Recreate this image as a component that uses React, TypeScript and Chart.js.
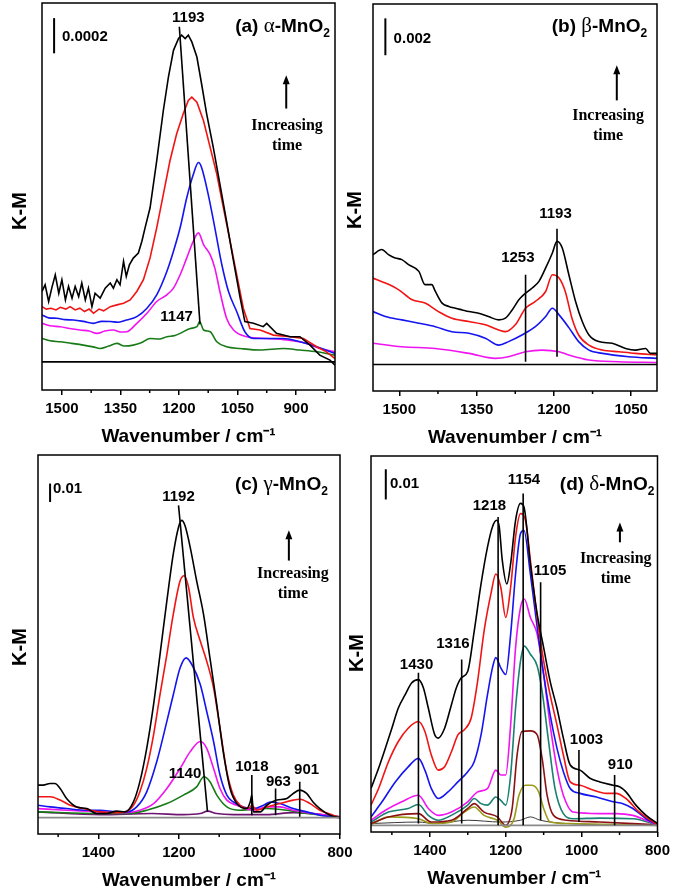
import React, { useEffect, useRef } from 'react';
import { Chart, registerables } from 'chart.js';
Chart.register(...registerables);

type Pt = [number, number];
const SANS = '"Liberation Sans", Arial, Helvetica, sans-serif';
const SERIF = '"Liberation Serif", "Times New Roman", serif';

// ---------- Panel (a) alpha-MnO2 (K-M, units of 1e-4) ----------
const aBlack: Pt[] = [[1551,4.0],[1543,4.38],[1534,3.43],[1526,4.19],[1517,4.95],[1508,3.9],[1500,4.67],[1491,3.52],[1483,4.29],[1474,3.62],[1466,4.29],[1457,3.71],[1449,4.48],[1440,3.52],[1432,4.19],[1423,3.14],[1415,3.9],[1402,3.62],[1389,4.19],[1376,4.48],[1368,4.19],[1359,4.67],[1351,4.38],[1342,5.71],[1335,4.86],[1327,5.52],[1317,5.9],[1304,6.19],[1295,6.86],[1287,7.6],[1274,8.76],[1257,11.43],[1240,14.29],[1227,16.19],[1214,17.71],[1201,18.38],[1193,18.57],[1184,18.38],[1176,18.57],[1167,18.19],[1154,17.33],[1142,15.81],[1129,14.1],[1112,12.19],[1095,10.1],[1078,8.0],[1060,5.71],[1043,3.62],[1031,2.29],[1009,2.19],[984,2.0],[975,2.19],[950,1.62],[915,1.43],[890,1.43],[864,0.95],[839,0.38],[813,0.1],[800,-0.19]];
const aRed: Pt[] = [[1551,3.14],[1540,3.0],[1528,3.05],[1515,2.95],[1504,3.1],[1490,3.0],[1479,3.14],[1466,2.95],[1454,3.05],[1442,2.86],[1430,3.0],[1419,2.76],[1405,3.0],[1393,2.9],[1376,3.14],[1359,3.24],[1342,3.33],[1325,3.52],[1308,4.0],[1291,4.67],[1274,5.91],[1257,7.62],[1240,9.52],[1223,11.43],[1206,12.95],[1189,14.1],[1176,14.86],[1167,15.05],[1154,14.76],[1137,13.71],[1120,12.19],[1103,10.67],[1086,8.76],[1069,6.86],[1052,4.95],[1035,3.05],[1018,1.9],[992,1.81],[958,1.52],[915,1.43],[881,1.33],[847,0.86],[822,0.57],[800,0.19]];
const aBlue: Pt[] = [[1551,2.67],[1534,2.5],[1513,2.48],[1492,2.4],[1470,2.38],[1445,2.3],[1419,2.19],[1398,2.3],[1376,2.29],[1355,2.25],[1334,2.38],[1308,2.57],[1282,3.05],[1257,3.81],[1231,5.14],[1214,6.29],[1197,7.62],[1180,9.33],[1163,10.67],[1150,11.33],[1142,11.05],[1125,9.52],[1108,7.62],[1090,5.52],[1073,4.0],[1052,2.86],[1031,1.71],[1009,1.33],[975,1.33],[932,1.33],[890,1.14],[847,0.86],[800,0.48]];
const aMagenta: Pt[] = [[1551,2.19],[1530,2.05],[1504,2.0],[1480,1.9],[1453,1.81],[1430,1.75],[1410,1.62],[1390,1.75],[1368,1.81],[1350,1.7],[1334,1.71],[1308,2.19],[1282,2.76],[1257,3.43],[1231,3.81],[1214,4.19],[1197,4.95],[1180,5.91],[1163,6.86],[1150,7.33],[1137,6.67],[1120,6.1],[1108,5.33],[1095,4.0],[1078,2.48],[1060,1.81],[1026,1.43],[975,1.33],[924,1.24],[873,1.05],[839,0.76],[800,0.57]];
const aGreen: Pt[] = [[1551,1.33],[1530,1.2],[1504,1.14],[1475,1.05],[1445,0.95],[1420,0.85],[1402,0.76],[1380,0.9],[1359,1.05],[1340,0.9],[1317,0.95],[1295,1.1],[1274,1.33],[1250,1.3],[1231,1.43],[1210,1.5],[1197,1.62],[1171,1.9],[1154,2.0],[1147,2.29],[1137,1.81],[1120,1.71],[1103,1.14],[1078,0.86],[1043,0.76],[992,0.67],[932,0.76],[890,0.67],[847,0.57],[800,0.38]];
const aBase: Pt[] = [[1551,0],[800,0]];
const aGuide1193: Pt[] = [[1199,19.05],[1146,2.13]];

// ---------- Panel (b) beta-MnO2 (K-M, units of 1e-3) ----------
const bBlack: Pt[] = [[1551,5.96],[1534,6.24],[1521,5.96],[1508,5.78],[1495,5.69],[1482,5.42],[1462,5.05],[1450,4.33],[1437,4.33],[1430,3.96],[1417,3.33],[1404,3.15],[1391,3.05],[1378,2.96],[1365,2.87],[1346,2.78],[1327,2.6],[1307,2.42],[1294,2.51],[1281,2.96],[1268,3.51],[1255,3.87],[1242,4.15],[1229,4.51],[1216,5.24],[1203,6.05],[1194,6.69],[1184,6.33],[1171,4.87],[1158,3.42],[1145,2.33],[1132,1.6],[1113,1.24],[1087,1.15],[1061,0.87],[1042,0.78],[1022,0.87],[1013,0.6],[1000,0.6]];
const bRed: Pt[] = [[1551,4.69],[1527,4.42],[1501,4.05],[1475,3.51],[1450,3.33],[1424,2.87],[1398,2.51],[1365,2.33],[1333,2.15],[1307,1.87],[1294,1.78],[1275,2.15],[1255,3.05],[1236,3.42],[1216,3.96],[1203,4.87],[1190,4.69],[1178,3.96],[1165,2.51],[1152,1.6],[1132,1.05],[1106,0.78],[1074,0.69],[1042,0.6],[1000,0.51]];
const bBlue: Pt[] = [[1551,2.87],[1527,2.6],[1495,2.42],[1462,2.24],[1430,2.05],[1398,1.78],[1365,1.69],[1333,1.42],[1307,1.05],[1288,1.24],[1262,1.6],[1236,2.05],[1216,2.6],[1203,3.05],[1190,2.69],[1171,2.0],[1152,1.24],[1132,0.78],[1106,0.6],[1055,0.42],[1000,0.33]];
const bMagenta: Pt[] = [[1551,1.15],[1495,0.96],[1430,0.87],[1365,0.6],[1314,0.33],[1288,0.42],[1255,0.69],[1223,0.78],[1190,0.69],[1171,0.51],[1132,0.24],[1074,0.15],[1000,0.11]];
const bBase: Pt[] = [[1551,0],[1000,0]];
const bGuide1253: Pt[] = [[1255,4.87],[1255,0.15]];
const bGuide1193: Pt[] = [[1194,7.36],[1194,0.42]];

// ---------- Panel (c) gamma-MnO2 (K-M, units of 1e-2) ----------
const cBlack: Pt[] = [[1551,1.76],[1537,1.76],[1520,1.85],[1508,1.85],[1495,1.58],[1479,1.04],[1454,0.58],[1429,0.49],[1404,0.22],[1379,0.22],[1354,0.35],[1334,0.31],[1313,0.85],[1297,1.95],[1280,3.76],[1263,6.13],[1247,8.85],[1230,11.76],[1214,14.31],[1201,15.76],[1193,16.13],[1185,15.85],[1172,14.67],[1156,12.85],[1139,11.04],[1123,8.67],[1106,6.13],[1090,3.58],[1073,1.58],[1056,0.76],[1032,0.49],[1023,0.85],[1019,1.22],[1015,0.31],[998,0.31],[982,0.67],[957,0.95],[932,1.04],[916,1.31],[900,1.49],[883,1.31],[867,0.85],[850,0.49],[825,0.13],[800,0]];
const cRed: Pt[] = [[1551,1.13],[1520,1.13],[1495,0.95],[1470,0.67],[1437,0.49],[1396,0.31],[1363,0.27],[1334,0.31],[1313,0.67],[1297,1.4],[1280,2.67],[1263,4.49],[1247,6.67],[1230,8.85],[1214,11.04],[1197,12.85],[1187,13.13],[1176,12.49],[1164,10.85],[1147,9.58],[1131,8.49],[1114,7.04],[1098,4.85],[1081,2.49],[1065,1.22],[1048,0.67],[1027,0.49],[1019,0.67],[1007,0.4],[982,0.58],[949,0.76],[916,0.95],[900,1.0],[874,0.76],[850,0.4],[817,0.13],[800,0]];
const cBlue: Pt[] = [[1551,0.67],[1520,0.58],[1479,0.49],[1429,0.4],[1396,0.4],[1354,0.31],[1329,0.31],[1305,0.58],[1280,1.4],[1255,3.04],[1230,5.22],[1214,6.67],[1197,8.13],[1182,8.67],[1168,8.31],[1147,7.22],[1131,5.76],[1114,4.13],[1098,2.31],[1081,1.22],[1065,0.85],[1040,0.58],[1015,0.49],[990,0.67],[973,0.85],[949,0.76],[916,0.49],[883,0.31],[850,0.13],[800,0]];
const cMagenta: Pt[] = [[1551,0.49],[1479,0.4],[1396,0.31],[1329,0.27],[1297,0.4],[1263,0.76],[1230,1.58],[1197,2.67],[1172,3.58],[1147,4.13],[1131,3.76],[1114,2.67],[1098,1.58],[1081,0.95],[1056,0.67],[1015,0.4],[982,0.58],[949,0.58],[916,0.4],[867,0.22],[800,0.04]];
const cGreen: Pt[] = [[1551,0.31],[1396,0.22],[1329,0.22],[1280,0.4],[1230,0.76],[1189,1.22],[1156,1.67],[1138,2.22],[1123,1.95],[1106,1.22],[1081,0.58],[1048,0.4],[982,0.49],[932,0.4],[883,0.22],[800,0.04]];
const cPurple: Pt[] = [[1551,0.31],[1396,0.16],[1267,0.22],[1189,0.16],[1147,0.22],[1129,0.35],[1106,0.22],[1065,0.16],[982,0.16],[916,0.27],[867,0.22],[800,0.04]];
const cBase: Pt[] = [[1550,0],[800,0]];
const cGuide1192: Pt[] = [[1201,16.95],[1129,0.31]];
const cGuide1018: Pt[] = [[1019,2.31],[1019,0.13]];
const cGuide963: Pt[] = [[960,1.58],[960,0.13]];
const cGuide901: Pt[] = [[900,1.95],[900,0.05]];

// ---------- Panel (d) delta-MnO2 (K-M, units of 1e-2) ----------
const dBlack: Pt[] = [[1555,1.22],[1535,1.89],[1517,2.56],[1500,3.22],[1483,3.89],[1465,4.33],[1448,4.72],[1430,4.83],[1417,4.56],[1404,3.89],[1387,3.0],[1378,2.89],[1361,3.22],[1343,4.0],[1330,4.56],[1317,4.89],[1300,5.11],[1283,6.44],[1265,8.0],[1248,9.22],[1235,9.89],[1224,10.11],[1217,9.89],[1209,8.78],[1197,8.0],[1187,8.67],[1174,10.11],[1161,10.67],[1152,10.56],[1135,8.67],[1117,7.0],[1100,5.89],[1083,4.78],[1065,3.89],[1048,2.89],[1030,2.0],[1004,1.83],[978,1.56],[952,1.44],[917,1.33],[900,1.28],[883,1.11],[857,0.67],[830,0.33],[800,0.06]];
const dRed: Pt[] = [[1555,0.67],[1535,1.22],[1509,2.11],[1483,2.78],[1457,3.22],[1430,3.44],[1413,3.11],[1396,2.33],[1378,1.83],[1361,1.94],[1343,2.44],[1326,3.0],[1309,3.17],[1291,3.56],[1274,4.78],[1257,6.44],[1239,7.67],[1226,8.33],[1213,7.89],[1200,6.89],[1187,7.89],[1174,9.56],[1161,10.33],[1148,10.11],[1135,8.78],[1117,6.89],[1100,5.44],[1083,4.33],[1065,3.33],[1048,2.33],[1030,1.44],[1004,1.33],[970,1.17],[935,1.06],[909,1.06],[883,0.89],[848,0.44],[800,0.02]];
const dBlue: Pt[] = [[1555,0.28],[1526,0.78],[1491,1.44],[1457,1.94],[1430,2.22],[1413,1.83],[1396,1.22],[1378,0.89],[1352,1.11],[1326,1.44],[1300,1.78],[1283,2.11],[1265,3.0],[1248,4.33],[1235,5.22],[1226,5.56],[1213,5.22],[1200,5.0],[1187,6.33],[1174,8.33],[1161,9.67],[1152,9.78],[1135,8.33],[1117,6.56],[1100,5.0],[1083,3.67],[1065,2.56],[1048,1.78],[1030,1.22],[1004,1.06],[961,0.94],[917,0.78],[891,0.72],[865,0.56],[830,0.22],[800,0.02]];
const dMagenta: Pt[] = [[1555,0.17],[1517,0.5],[1474,0.78],[1430,1.0],[1404,0.56],[1378,0.33],[1343,0.44],[1300,0.78],[1274,1.11],[1248,1.22],[1226,1.83],[1213,1.67],[1200,1.67],[1187,3.33],[1174,5.89],[1161,7.22],[1151,7.5],[1135,6.89],[1117,6.33],[1100,5.0],[1083,3.33],[1065,1.89],[1048,1.0],[1022,0.44],[952,0.39],[909,0.39],[865,0.33],[830,0.17],[800,0.02]];
const dTeal: Pt[] = [[1555,0.11],[1509,0.44],[1457,0.56],[1430,0.69],[1404,0.33],[1378,0.17],[1335,0.39],[1300,0.67],[1283,0.89],[1265,0.72],[1248,0.67],[1226,0.94],[1213,0.83],[1200,0.67],[1187,1.67],[1174,3.89],[1161,5.44],[1151,5.94],[1135,5.67],[1117,5.28],[1104,4.44],[1087,2.78],[1070,1.22],[1048,0.39],[1022,0.22],[952,0.24],[865,0.22],[800,0.02]];
const dMaroon: Pt[] = [[1555,0.06],[1509,0.28],[1430,0.39],[1396,0.11],[1343,0.17],[1300,0.56],[1283,0.72],[1257,0.44],[1222,0.28],[1200,0.0],[1183,0.56],[1170,2.33],[1157,3.11],[1135,3.13],[1117,3.0],[1104,2.22],[1091,1.0],[1074,0.33],[1039,0.17],[952,0.11],[800,0.02]];
const dOlive: Pt[] = [[1555,0.02],[1509,0.28],[1430,0.22],[1396,0.06],[1343,0.11],[1309,0.44],[1283,0.61],[1257,0.33],[1222,0.17],[1200,-0.06],[1178,0.22],[1165,1.0],[1148,1.33],[1131,1.33],[1113,1.11],[1100,0.56],[1083,0.11],[1039,0.06],[800,0]];
const dGray: Pt[] = [[1555,0.06],[1430,0.11],[1387,0.06],[1300,0.17],[1213,0.11],[1161,0.17],[1135,0.28],[1109,0.17],[1039,0.06],[800,0]];
const dBase: Pt[] = [[1555,0],[800,0]];
const dGuide1430: Pt[] = [[1430,5.06],[1430,0.06]];
const dGuide1316: Pt[] = [[1316,5.5],[1316,0.06]];
const dGuide1218: Pt[] = [[1220,10.22],[1220,0]];
const dGuide1154: Pt[] = [[1154,11.0],[1154,0]];
const dGuide1105: Pt[] = [[1108,8.06],[1108,0.17]];
const dGuide1003: Pt[] = [[1007,2.5],[1007,0.11]];
const dGuide910: Pt[] = [[913,1.67],[913,0]];

// tick values
const ticksAB = [1500, 1350, 1200, 1050, 900];
const minorAB = [1425, 1275, 1125, 975, 825];
const ticksCD = [1400, 1200, 1000, 800];
const minorCD = [1500, 1300, 1100, 900];

const BLACK = '#000000', RED = '#f01414', BLUE = '#1414f0', MAGENTA = '#f014f0', GREEN = '#177a17';
const PURPLE = '#6e1470', TEAL = '#1a8070', MAROON = '#8a1212', OLIVE = '#9a9a1c', DGRAY = '#3a3a3a';

interface SeriesDef { pts: Pt[]; color: string; width?: number; jagged?: boolean }
interface TextDef { text: string; x: number; y: number }
interface PanelDef {
  canvas: { left: number; top: number; width: number; height: number };
  plot: { left: number; top: number; right: number; bottom: number };
  xMin: number; xMax: number; yMin: number; yMax: number;
  major: number[]; minor: number[];
  series: SeriesDef[];
  guides: Pt[][];
  peakLabels: TextDef[];
  bar: { x: number; y0: number; y1: number; label: string; lx: number; ly: number };
  title: { letter: string; greek: string; x: number; y: number };
  arrow: { x: number; y0: number; y1: number; tx: number; ty1: number; ty2: number };
  km: { x: number; y: number };
}

const panels: PanelDef[] = [
  {
    canvas: { left: 0, top: 0, width: 340, height: 452 },
    plot: { left: 42, top: 3, right: 335, bottom: 388 },
    xMin: 800, xMax: 1551, yMin: -1.6, yMax: 20.4,
    major: ticksAB, minor: minorAB,
    series: [
      { pts: aBase, color: BLACK },
      { pts: aBlack, color: BLACK, jagged: true },
      { pts: aRed, color: RED, jagged: true },
      { pts: aBlue, color: BLUE },
      { pts: aMagenta, color: MAGENTA },
      { pts: aGreen, color: GREEN },
    ],
    guides: [aGuide1193],
    peakLabels: [{ text: '1193', x: 1176, y: 19.53 }, { text: '1147', x: 1206, y: 2.57 }],
    bar: { x: 1520, y0: 17.54, y1: 19.54, label: '0.0002', lx: 1500, ly: 18.47 },
    title: { letter: 'a', greek: 'α', x: 813, y: 19.14 },
    arrow: { x: 925, y0: 14.4, y1: 16.29, tx: 923, ty1: 13.43, ty2: 12.29 },
    km: { x: 20, y: 211 },
  },
  {
    canvas: { left: 340, top: 0, width: 335, height: 452 },
    plot: { left: 33, top: 4, right: 317, bottom: 389 },
    xMin: 1000, xMax: 1551, yMin: -1.44, yMax: 19.56,
    major: [1500, 1350, 1200, 1050], minor: [1425, 1275, 1125],
    series: [
      { pts: bBase, color: BLACK },
      { pts: bBlack, color: BLACK },
      { pts: bRed, color: RED },
      { pts: bBlue, color: BLUE },
      { pts: bMagenta, color: MAGENTA },
    ],
    guides: [bGuide1253, bGuide1193],
    peakLabels: [{ text: '1253', x: 1270, y: 5.78 }, { text: '1193', x: 1197, y: 8.18 }],
    bar: { x: 1527, y0: 16.78, y1: 18.78, label: '0.002', lx: 1511, ly: 17.69 },
    title: { letter: 'b', greek: 'β', x: 1019, y: 18.42 },
    arrow: { x: 1078, y0: 14.33, y1: 16.24, tx: 1095, ty1: 13.51, ty2: 12.42 },
    km: { x: 15, y: 210 },
  },
  {
    canvas: { left: 0, top: 452, width: 360, height: 439 },
    plot: { left: 38, top: 3, right: 340, bottom: 380 },
    xMin: 800, xMax: 1550, yMin: -0.89, yMax: 19.68,
    major: ticksCD, minor: minorCD,
    series: [
      { pts: cBase, color: '#8a8a8a' },
      { pts: cBlack, color: BLACK },
      { pts: cRed, color: RED },
      { pts: cBlue, color: BLUE },
      { pts: cMagenta, color: MAGENTA },
      { pts: cGreen, color: GREEN },
      { pts: cPurple, color: PURPLE },
    ],
    guides: [cGuide1192, cGuide1018, cGuide963, cGuide901],
    peakLabels: [
      { text: '1192', x: 1201, y: 17.4 }, { text: '1140', x: 1185, y: 2.4 },
      { text: '1018', x: 1019, y: 2.76 }, { text: '963', x: 953, y: 1.95 }, { text: '901', x: 883, y: 2.58 },
    ],
    bar: { x: 1520, y0: 17.13, y1: 18.13, label: '0.01', lx: 1513, ly: 17.85 },
    title: { letter: 'c', greek: 'γ', x: 830, y: 18.15 },
    arrow: { x: 927, y0: 13.95, y1: 15.59, tx: 917, ty1: 13.24, ty2: 12.15 },
    km: { x: 20, y: 195 },
  },
  {
    canvas: { left: 340, top: 452, width: 335, height: 439 },
    plot: { left: 31, top: 4, right: 320, bottom: 378 },
    xMin: 800, xMax: 1555, yMin: -0.22, yMax: 12.24,
    major: ticksCD, minor: minorCD,
    series: [
      { pts: dBase, color: '#8a8a8a' },
      { pts: dBlack, color: BLACK },
      { pts: dRed, color: RED },
      { pts: dBlue, color: BLUE },
      { pts: dMagenta, color: MAGENTA },
      { pts: dTeal, color: TEAL },
      { pts: dMaroon, color: MAROON },
      { pts: dOlive, color: OLIVE },
      { pts: dGray, color: DGRAY, width: 1 },
    ],
    guides: [dGuide1430, dGuide1316, dGuide1218, dGuide1154, dGuide1105, dGuide1003, dGuide910],
    peakLabels: [
      { text: '1430', x: 1435, y: 5.33 }, { text: '1316', x: 1339, y: 6.02 },
      { text: '1218', x: 1243, y: 10.6 }, { text: '1154', x: 1152, y: 11.44 },
      { text: '1105', x: 1083, y: 8.44 }, { text: '1003', x: 987, y: 2.83 }, { text: '910', x: 898, y: 2.02 },
    ],
    bar: { x: 1516, y0: 10.8, y1: 11.8, label: '0.01', lx: 1505, ly: 11.33 },
    title: { letter: 'd', greek: 'δ', x: 808, y: 11.34 },
    arrow: { x: 899, y0: 9.38, y1: 10.04, tx: 910, ty1: 8.84, ty2: 8.18 },
    km: { x: 17, y: 201 },
  },
];

const TICK_LEN = 5;
const TICK_FONT = 15;
const TICK_PAD = 5;
const TITLE_FONT = 19;
const TITLE_LH = 1.1;
const TITLE_PAD_TOP = 3;
const AXIS_EXTRA = 7; // measured extra height the x axis takes
const AXIS_H = TICK_LEN + TICK_FONT * 1.2 + TICK_PAD + TITLE_FONT * TITLE_LH + TITLE_PAD_TOP + AXIS_EXTRA;

function makeDecor(p: PanelDef) {
  return {
    id: 'decor',
    afterDraw(chart: any) {
      const { ctx, chartArea: ca, scales } = chart;
      const X = (v: number) => scales.x.getPixelForValue(v);
      const Y = (v: number) => scales.y.getPixelForValue(v);
      ctx.save();
      ctx.strokeStyle = '#000';
      ctx.fillStyle = '#000';
      ctx.lineWidth = 1.5;
      ctx.strokeRect(ca.left, ca.top, ca.right - ca.left, ca.bottom - ca.top);
      // minor ticks
      ctx.beginPath();
      for (const m of p.minor) {
        const px = X(m);
        ctx.moveTo(px, ca.bottom);
        ctx.lineTo(px, ca.bottom + 3);
      }
      ctx.stroke();
      // scale bar
      ctx.lineWidth = 2;
      ctx.beginPath();
      ctx.moveTo(X(p.bar.x), Y(p.bar.y0));
      ctx.lineTo(X(p.bar.x), Y(p.bar.y1));
      ctx.stroke();
      ctx.font = `bold 15px ${SANS}`;
      ctx.textAlign = 'left';
      ctx.textBaseline = 'middle';
      ctx.fillText(p.bar.label, X(p.bar.lx), Y(p.bar.ly));
      // peak labels
      ctx.textAlign = 'center';
      for (const l of p.peakLabels) ctx.fillText(l.text, X(l.x), Y(l.y));
      // title
      const segs = [
        { t: `(${p.title.letter}) `, f: `bold 19px ${SANS}`, dy: 0 },
        { t: p.title.greek, f: `21px ${SERIF}`, dy: 0 },
        { t: '-MnO', f: `bold 19px ${SANS}`, dy: 0 },
        { t: '2', f: `bold 12px ${SANS}`, dy: 5 },
      ];
      let total = 0;
      for (const s of segs) { ctx.font = s.f; total += ctx.measureText(s.t).width; }
      let tx = X(p.title.x) - total;
      const base = Y(p.title.y) + 7;
      ctx.textAlign = 'left';
      ctx.textBaseline = 'alphabetic';
      for (const s of segs) {
        ctx.font = s.f;
        ctx.fillText(s.t, tx, base + s.dy);
        tx += ctx.measureText(s.t).width;
      }
      // arrow
      const ax = X(p.arrow.x);
      const ay0 = Y(p.arrow.y0), ay1 = Y(p.arrow.y1);
      ctx.lineWidth = 2;
      ctx.beginPath();
      ctx.moveTo(ax, ay0);
      ctx.lineTo(ax, ay1 + 6);
      ctx.stroke();
      ctx.beginPath();
      ctx.moveTo(ax, ay1);
      ctx.lineTo(ax - 3.5, ay1 + 9);
      ctx.lineTo(ax + 3.5, ay1 + 9);
      ctx.closePath();
      ctx.fill();
      ctx.font = `bold 16px ${SERIF}`;
      ctx.textAlign = 'center';
      ctx.textBaseline = 'middle';
      ctx.fillText('Increasing', X(p.arrow.tx), Y(p.arrow.ty1));
      ctx.fillText('time', X(p.arrow.tx), Y(p.arrow.ty2));
      // y title
      ctx.save();
      ctx.translate(p.km.x, p.km.y);
      ctx.rotate(-Math.PI / 2);
      ctx.font = `bold 20px ${SANS}`;
      ctx.textAlign = 'center';
      ctx.textBaseline = 'middle';
      ctx.fillText('K-M', 0, 0);
      ctx.restore();
      ctx.restore();
    },
  };
}

function Panel({ p }: { p: PanelDef }) {
  const ref = useRef<HTMLCanvasElement>(null);
  useEffect(() => {
    const canvas = ref.current;
    if (!canvas) return;
    const padBottom = p.canvas.height - p.plot.bottom - AXIS_H;
    const datasets: any[] = [];
    for (const g of p.guides) {
      datasets.push({
        data: g.map(([x, y]) => ({ x, y })),
        borderColor: '#000', borderWidth: 1.6, pointRadius: 0, tension: 0, fill: false,
      });
    }
    for (const s of p.series) {
      const ds: any = {
        data: s.pts.map(([x, y]) => ({ x, y })),
        borderColor: s.color, borderWidth: s.width ?? 1.6, pointRadius: 0, fill: false,
        tension: 0,
      };
      if (!s.jagged) ds.cubicInterpolationMode = 'monotone';
      datasets.push(ds);
    }
    const chart = new Chart(canvas, {
      type: 'line',
      data: { datasets },
      options: {
        responsive: false,
        animation: false,
        devicePixelRatio: 1,
        layout: {
          padding: {
            left: p.plot.left,
            right: p.canvas.width - p.plot.right,
            top: p.plot.top,
            bottom: Math.max(0, padBottom),
          },
        },
        plugins: { legend: { display: false }, tooltip: { enabled: false } },
        scales: {
          x: {
            type: 'linear',
            reverse: true,
            min: p.xMin,
            max: p.xMax,
            afterBuildTicks: (scale: any) => { scale.ticks = p.major.map((v) => ({ value: v })); },
            ticks: {
              color: '#000',
              padding: TICK_PAD,
              autoSkip: false,
              maxRotation: 0,
              font: { family: SANS, size: TICK_FONT, weight: 'bold' },
              callback: (v: any) => String(v),
            },
            grid: {
              display: true, drawOnChartArea: false, drawTicks: true, tickLength: TICK_LEN,
              color: '#000', tickColor: '#000', tickWidth: 1.5, lineWidth: 1.5,
            },
            border: { display: false },
            title: {
              display: true,
              text: 'Wavenumber / cm⁻¹',
              color: '#000',
              font: { family: SANS, size: TITLE_FONT, weight: 'bold', lineHeight: TITLE_LH },
              padding: { top: TITLE_PAD_TOP, bottom: 0 },
            },
          },
          y: { type: 'linear', display: false, min: p.yMin, max: p.yMax },
        },
      },
      plugins: [makeDecor(p)],
    } as any);
    return () => chart.destroy();
  }, [p]);
  return (
    <canvas
      ref={ref}
      width={p.canvas.width}
      height={p.canvas.height}
      style={{
        position: 'absolute', left: p.canvas.left, top: p.canvas.top,
        width: p.canvas.width, height: p.canvas.height,
      }}
    />
  );
}

export default function App() {
  return (
    <div style={{ position: 'absolute', left: 0, top: 0, width: 675, height: 891, background: '#fff', overflow: 'hidden' }}>
      {panels.map((p, i) => <Panel key={i} p={p} />)}
    </div>
  );
}
